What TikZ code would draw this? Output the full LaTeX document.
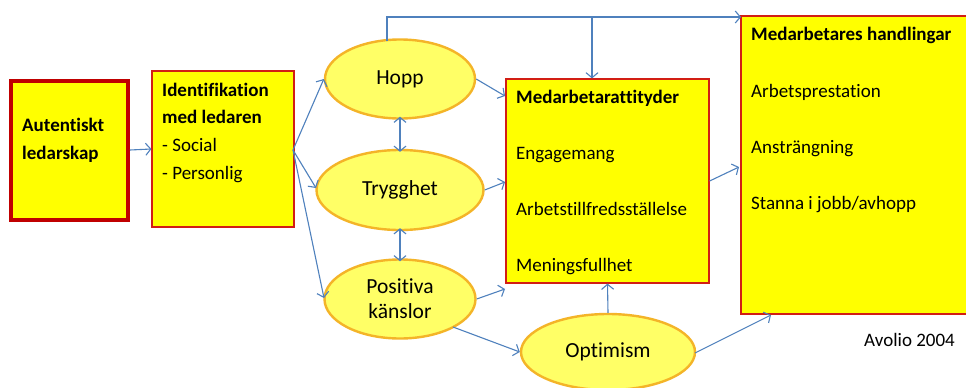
\documentclass[tikz,border=0pt]{standalone}
\usepackage{fontspec}
\setmainfont{Carlito}[Ligatures=NoCommon]
\usetikzlibrary{arrows.meta,shapes.geometric}
\definecolor{arrowblue}{RGB}{79,129,189}
\definecolor{boxyellow}{RGB}{255,255,0}
\definecolor{elfill}{RGB}{255,255,102}
\definecolor{elborder}{RGB}{244,180,40}
\definecolor{darkred}{RGB}{192,0,0}
\definecolor{thinred}{RGB}{210,30,20}
\tikzset{
  conn/.style={draw=arrowblue, line width=1.1pt, -{Straight Barb[length=5pt,width=12pt]}},
  dconn/.style={draw=arrowblue, line width=1.1pt, {Straight Barb[length=5pt,width=12pt]}-{Straight Barb[length=5pt,width=12pt]}},
  plain/.style={draw=arrowblue, line width=1.1pt},
  ybox/.style={draw=thinred, line width=1.2pt, fill=boxyellow, inner sep=0pt},
  ell/.style={ellipse, draw=elborder, line width=2.4pt, fill=elfill, inner sep=0pt, align=center, font=\fontsize{21.5}{26}\selectfont},
  txt/.style={anchor=base west, inner sep=0pt, font=\fontsize{19}{23}\selectfont},
  btxt/.style={txt, font=\fontsize{19}{23}\selectfont\bfseries},
}
\begin{document}
\begin{tikzpicture}[x=1pt,y=-1pt]
\clip (0,0) rectangle (966,388);
\fill[white] (0,0) rectangle (966,388);
% boxes
\node[draw=darkred, line width=4pt, fill=boxyellow, inner sep=0pt, minimum width=117pt, minimum height=139pt] (aut) at (69.5,150) {};
\node[ybox, minimum width=142pt, minimum height=156pt] (idf) at (223,149) {};
\node[ybox, minimum width=203pt, minimum height=204pt] (att) at (607.5,181) {};
\node[ybox, minimum width=240pt, minimum height=298pt] (hand) at (861,165) {};
% ellipses
\node[ell, minimum width=150pt, minimum height=79pt] (hopp) at (400,79) {Hopp};
\node[ell, minimum width=167pt, minimum height=80pt] (tryg) at (400,190) {Trygghet};
\node[ell, minimum width=151pt, minimum height=79pt] (pos) at (400,299) {Positiva\\[-1pt]känslor};
\node[ell, minimum width=174pt, minimum height=76pt] (opt) at (608,352) {Optimism};
% texts
\node[btxt] (t1) at (22,131) {Autentiskt};
\node[btxt] (t2) at (22,159) {ledarskap};
\node[btxt] (t3) at (162,96) {Identifikation};
\node[btxt] (t4) at (162,123) {med ledaren};
\node[txt] (t5) at (162,151) {- Social};
\node[txt] (t6) at (162,179) {- Personlig};
\node[btxt] (t7) at (516,103) {Medarbetarattityder};
\node[txt] (t8) at (516,159) {Engagemang};
\node[txt] (t9) at (516,215) {Arbetstillfredsställelse};
\node[txt] (t10) at (516,271) {Meningsfullhet};
\node[btxt] (t11) at (751,40) {Medarbetares handlingar};
\node[txt] (t12) at (751,97) {Arbetsprestation};
\node[txt] (t13) at (751,153) {Ansträngning};
\node[txt] (t14) at (751,209) {Stanna i jobb/avhopp};
\node[txt] (avolio) at (864,346) {Avolio 2004};
% coordinates
\coordinate (top1) at (387,17);
\coordinate (top2) at (592,17);
\coordinate (posend) at (505,289);
% connectors
\draw[conn] (aut.east) -- (idf.west);
\draw[conn] (293,150) -- (hopp.west);
\draw[conn] (293,150) -- (316,188);
\draw[conn] (293,150) -- (324,298);
\draw[dconn] ([yshift=3pt]hopp.south) -- ([yshift=-3pt]tryg.north);
\draw[dconn] ([yshift=3pt]tryg.south) -- ([yshift=-3pt]pos.north);
\draw[conn] (hopp.east) -- (505,96);
\draw[conn] (tryg.east) -- (505,182);
\draw[conn] (pos.east) -- (posend);
\draw[conn] (453,327) -- (opt.west);
\draw[conn] (opt.north) -- (att.south);
\draw[conn] (att.east) -- (739,167);
\draw[conn] (695,353) -- (771,315);
\draw[plain] (387,41) -- (top1) -- (top2);
\draw[conn] (top2) -- (741,17);
\draw[conn] (top2) -- (att.north -| top2);
\end{tikzpicture}
\end{document}
